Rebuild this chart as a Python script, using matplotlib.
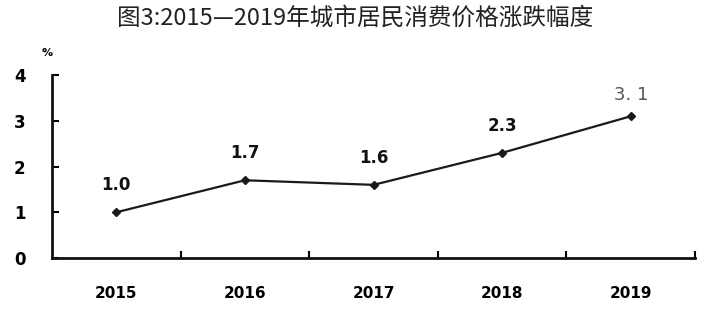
import matplotlib
matplotlib.use("Agg")
import matplotlib.pyplot as plt

years = ["2015", "2016", "2017", "2018", "2019"]
values = [1.0, 1.7, 1.6, 2.3, 3.1]
labels = ["1.0", "1.7", "1.6", "2.3", "3.1"]
yticks = [0, 1, 2, 3, 4]

plt.rcParams['font.family'] = ['DejaVu Sans']

fig = plt.figure(figsize=(7.1, 3.09), dpi=100)
fig.patch.set_facecolor("white")
ax = fig.add_axes([0.0732, 0.165, 0.9058, 0.592])

x = list(range(len(years)))
ax.plot(x, values, color="#1a1a1a", lw=1.6, marker="D", ms=4.5, mfc="#1a1a1a", mec="#1a1a1a")

for i, (v, lab) in enumerate(zip(values, labels)):
    if i == len(values) - 1:
        ax.text(i, v + 0.26, "3. 1", ha="center", va="bottom", fontsize=13,
                color="#555555")
    else:
        ax.text(i, v + 0.4, lab, ha="center", va="bottom", fontsize=12,
                fontweight="bold", color="#111111")

ax.set_xlim(-0.5, len(years) - 0.5)
ax.set_ylim(0, 4)
ax.set_yticks(yticks)
ax.set_yticklabels([str(t) for t in yticks], fontsize=12, fontweight="bold")
ax.set_xticks([i + 0.5 for i in x])
ax.set_xticklabels([])
ax.set_xticks(x, minor=True)
ax.set_xticklabels(years, minor=True, fontsize=11, fontweight="bold")
ax.tick_params(axis="x", which="minor", length=0, pad=20)
ax.tick_params(axis="x", which="major", direction="in", length=5, width=1.5)
ax.tick_params(axis="y", direction="in", length=5, width=1.5, pad=19)

for s in ["top", "right"]:
    ax.spines[s].set_visible(False)
for s in ["left", "bottom"]:
    ax.spines[s].set_linewidth(2)
    ax.spines[s].set_color("#111111")

fig.text(0.066, 0.82, "%", fontsize=8, fontweight="bold", ha="center")
fig.text(0.5, 0.942, "图3:2015—2019年城市居民消费价格涨跌幅度", ha="center", va="center",
         fontsize=17, family=["Noto Sans CJK SC", "DejaVu Sans"], color="#222222")

fig.savefig("out.png", dpi=100, facecolor="white")
